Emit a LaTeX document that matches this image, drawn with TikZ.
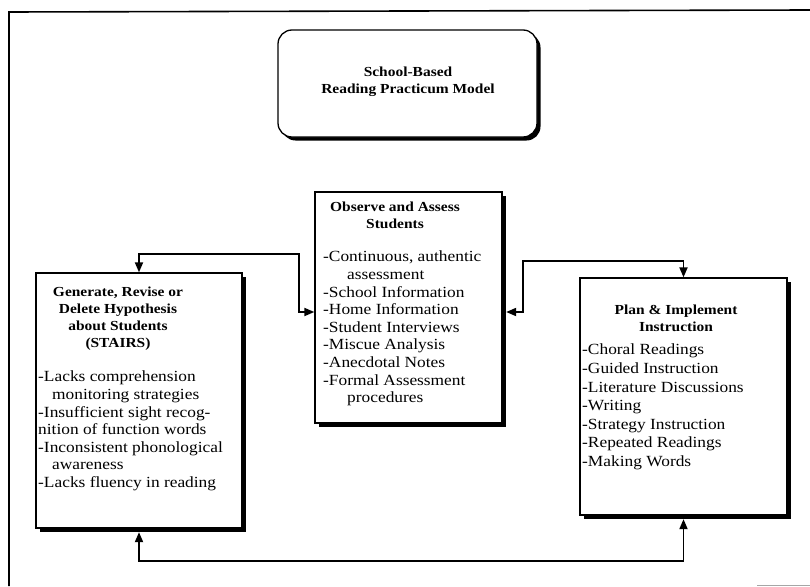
\documentclass[tikz,border=0pt]{standalone}
\usepackage{fontspec}
\setmainfont{Liberation Serif}[FakeStretch=1.12]
\usetikzlibrary{arrows.meta,positioning,shadows}

\newcommand\bodyfont{\fontsize{15.5}{17.6}\selectfont}
\newcommand\headfont{\fontsize{13.8}{16.8}\selectfont\bfseries}

\tikzset{
  stagebox/.style={draw, line width=1.3pt, fill=white, inner sep=0pt,
    drop shadow={shadow xshift=3.5pt, shadow yshift=-3.5pt, fill=black, opacity=1}},
  titlebox/.style={stagebox, rounded corners=14pt},
  head/.style={font=\headfont, align=center, inner sep=0pt, anchor=north},
  items/.style={font=\bodyfont, align=left, inner sep=0pt, anchor=north west},
  link/.style={line width=1.8pt, {Triangle[length=10pt,width=8pt]}-{Triangle[length=10pt,width=8pt]}},
}

\begin{document}
\begin{tikzpicture}[x=1pt, y=-1pt, font=\bodyfont]
  \useasboundingbox (0,0) rectangle (810,586);
  % frame
  \draw[line width=1.6pt] (9,586) -- (9,12) -- (810,10);
  \draw[black!35, line width=1pt] (757,585) -- (810,585);

  % boxes
  \node[titlebox, minimum width=259pt, minimum height=107pt] (title) at (407.5,83.5) {};
  \node[stagebox, minimum width=187pt, minimum height=231pt] (obs) at (408.5,307.5) {};
  \node[stagebox, minimum width=206pt, minimum height=255pt] (gen) at (139,400.5) {};
  \node[stagebox, minimum width=207pt, minimum height=237pt] (plan) at (683.5,396.5) {};

  % texts
  \node[head, anchor=center] (titletext) at (408,82) {School-Based\\Reading Practicum Model};

  \node[head] (obshead) at (395,202) {Observe and Assess\\Students};
  \node[items] (obslist) at (323,251) {-Continuous, authentic\\\hspace*{24pt}assessment\\-School Information\\-Home Information\\-Student Interviews\\-Miscue Analysis\\-Anecdotal Notes\\-Formal Assessment\\\hspace*{24pt}procedures};

  \node[head] (genhead) at (118,287) {Generate, Revise or\\Delete Hypothesis\\about Students\\(STAIRS)};
  \node[items] (genlist) at (38,371) {-Lacks comprehension\\\hspace*{14pt}monitoring strategies\\-Insufficient sight recog-\\nition of function words\\-Inconsistent phonological\\\hspace*{14pt}awareness\\-Lacks fluency in reading};

  \node[head] (planhead) at (676,305) {Plan \& Implement\\Instruction};
  \node[items, font=\fontsize{15.5}{18.6}\selectfont] (planlist) at (582,344) {-Choral Readings\\-Guided Instruction\\-Literature Discussions\\-Writing\\-Strategy Instruction\\-Repeated Readings\\-Making Words};

  % connectors
  \draw[link] (gen.north) -- ++(0,-18) -| ([xshift=-15pt,yshift=-4.5pt]obs.west) -- ([yshift=-4.5pt]obs.west);
  \draw[link] (plan.north) -- ++(0,-16) -| ([xshift=20pt,yshift=-4.5pt]obs.east) -- ([xshift=3.5pt,yshift=-4.5pt]obs.east);
  \draw[link] ([yshift=-3.5pt]gen.south) -- ++(0,28.5) -| ([yshift=-3.5pt]plan.south);
\end{tikzpicture}
\end{document}
